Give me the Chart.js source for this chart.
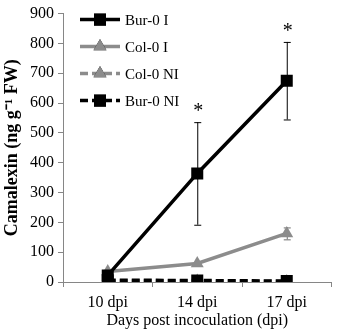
<!DOCTYPE html>
<html>
<head>
<meta charset="utf-8">
<script src="https://cdn.jsdelivr.net/npm/chart.js@4/dist/chart.umd.min.js"></script>
<style>
html,body{margin:0;padding:0;background:#fff;}
#wrap{width:340px;height:336px;}
</style>
</head>
<body>
<div id="wrap"><canvas id="c" width="340" height="336"></canvas></div>
<script>
const categories = ['10 dpi', '14 dpi', '17 dpi'];
const yTicks = [0, 100, 200, 300, 400, 500, 600, 700, 800, 900];
const bur0I = [22, 364, 675];
const bur0IErr = [0, 172, 130];
const col0I = [35, 62, 163];
const col0IErr = [0, 0, 20];
const col0NI = [3, 3, 2];
const col0NIErr = [0, 0, 0];
const bur0NI = [6, 5, 3];
const bur0NIErr = [0, 0, 0];
const significance = ['', '*', '*'];

const BLACK = '#000000';
const GRAY = '#8c8c8c';
const AXIS = '#868686';
const SERIF = '"Liberation Serif", "Times New Roman", serif';

const datasets = [
  {label: 'Bur-0 I', data: bur0I, err: bur0IErr, borderColor: BLACK, backgroundColor: BLACK,
   borderWidth: 3.5, pointStyle: 'rect', pointRadius: 8.5, pointHoverRadius: 8.5, dash: [], order: 0},
  {label: 'Col-0 I', data: col0I, err: col0IErr, borderColor: GRAY, backgroundColor: GRAY,
   borderWidth: 3.5, pointStyle: 'triangle', pointRadius: 7.5, pointHoverRadius: 7.5, dash: [], order: 1},
  {label: 'Col-0 NI', data: col0NI, err: col0NIErr, borderColor: GRAY, backgroundColor: GRAY,
   borderWidth: 3.5, pointStyle: 'triangle', pointRadius: 7.5, pointHoverRadius: 7.5, dash: [8, 4], order: 3},
  {label: 'Bur-0 NI', data: bur0NI, err: bur0NIErr, borderColor: BLACK, backgroundColor: BLACK,
   borderWidth: 3.5, pointStyle: 'rect', pointRadius: 8.5, pointHoverRadius: 8.5, dash: [8, 4], order: 2}
].map(d => Object.assign(d, {borderDash: d.dash, fill: false, tension: 0, pointBorderWidth: 0}));

const errorBars = {
  id: 'errorBars',
  beforeDatasetsDraw(chart) {
    const ctx = chart.ctx, x = chart.scales.x, y = chart.scales.y;
    ctx.save();
    chart.data.datasets.forEach(ds => {
      ds.data.forEach((v, i) => {
        const e = ds.err[i];
        if (!e) return;
        const px = x.getPixelForValue(i);
        const top = y.getPixelForValue(v + e), bot = y.getPixelForValue(v - e);
        ctx.strokeStyle = ds.borderColor === GRAY ? '#6e6e6e' : '#000';
        ctx.lineWidth = 1;
        ctx.beginPath();
        ctx.moveTo(px + 0.5, top); ctx.lineTo(px + 0.5, bot);
        ctx.moveTo(px - 3, top + 0.5); ctx.lineTo(px + 4, top + 0.5);
        ctx.moveTo(px - 3, bot + 0.5); ctx.lineTo(px + 4, bot + 0.5);
        ctx.stroke();
      });
    });
    ctx.restore();
  },
  afterDatasetsDraw(chart) {
    const ctx = chart.ctx, x = chart.scales.x, y = chart.scales.y;
    const ds = chart.data.datasets[0];
    ctx.save();
    ctx.fillStyle = '#000';
    ctx.font = '20px ' + SERIF;
    ctx.textAlign = 'center';
    ctx.textBaseline = 'middle';
    significance.forEach((s, i) => {
      if (!s) return;
      const top = y.getPixelForValue(ds.data[i] + ds.err[i]);
      ctx.fillText(s, x.getPixelForValue(i) + 1, top - 10);
    });
    ctx.restore();
  }
};

const lineLegend = {
  id: 'lineLegend',
  afterDraw(chart) {
    const ctx = chart.ctx, a = chart.chartArea;
    ctx.save();
    chart.data.datasets.forEach((ds, k) => {
      const yy = a.top + 6 + k * 27;
      const x0 = a.left + 17, x1 = a.left + 57;
      ctx.strokeStyle = ds.borderColor;
      ctx.lineWidth = ds.borderWidth;
      ctx.setLineDash(ds.borderDash);
      ctx.beginPath(); ctx.moveTo(x0, yy); ctx.lineTo(x1, yy); ctx.stroke();
      ctx.setLineDash([]);
      Chart.helpers.drawPoint(ctx, {pointStyle: ds.pointStyle, radius: ds.pointRadius, borderWidth: 0},
        (x0 + x1) / 2, yy);
      ctx.fillStyle = ds.backgroundColor;
      ctx.fill();
      ctx.fillStyle = '#000';
      ctx.font = '15px ' + SERIF;
      ctx.textAlign = 'left';
      ctx.textBaseline = 'middle';
      ctx.fillText(ds.label, x1 + 5, yy + 1);
    });
    ctx.restore();
  }
};

new Chart(document.getElementById('c'), {
  type: 'line',
  data: {labels: categories, datasets: datasets},
  options: {
    responsive: false,
    animation: false,
    devicePixelRatio: 1,
    layout: {padding: {top: 7, right: 2, left: 2, bottom: 0}},
    plugins: {legend: {display: false}, tooltip: {enabled: false}},
    scales: {
      x: {
        offset: true,
        grid: {display: true, offset: true, drawOnChartArea: false, tickLength: 5, color: AXIS},
        border: {color: AXIS, width: 1},
        ticks: {color: '#000', font: {family: SERIF, size: 16}, padding: 6},
        title: {display: true, text: 'Days post incoculation (dpi)', color: '#000',
                font: {family: SERIF, size: 16}, padding: {top: 0, bottom: 6}},
        afterFit(s) { s.height = 54; }
      },
      y: {
        min: 0, max: 900,
        afterBuildTicks(s) { s.ticks = yTicks.map(v => ({value: v})); },
        grid: {display: true, drawOnChartArea: false, tickLength: 5, color: AXIS},
        border: {color: AXIS, width: 1},
        ticks: {color: '#000', font: {family: SERIF, size: 16}, padding: 4},
        title: {display: true, text: 'Camalexin (ng g\u207B\u00B9 FW)', color: '#000',
                font: {family: SERIF, size: 18, weight: 'bold'}, padding: {top: 0, bottom: 0}},
        afterFit(s) { s.width = 61; }
      }
    }
  },
  plugins: [errorBars, lineLegend]
});
</script>
</body>
</html>
